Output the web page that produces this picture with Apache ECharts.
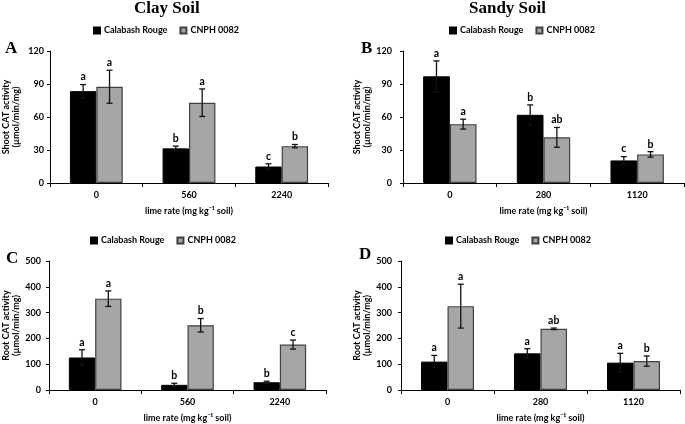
<!DOCTYPE html>
<html>
<head>
<meta charset="utf-8">
<script src="https://cdn.jsdelivr.net/npm/echarts@6/dist/echarts.min.js"></script>
<style>html,body{margin:0;padding:0;background:#fff;}#c{width:685px;height:424px;}</style>
</head>
<body>
<div id="c"></div>
<script>
// ---------- data ----------
const catsClay = ['0', '560', '2240'];
const catsSandy = ['0', '280', '1120'];
const seriesNames = ['Calabash Rouge', 'CNPH 0082'];
const shootTicks = { min: 0, max: 120, interval: 30 };
const rootTicks = { min: 0, max: 500, interval: 100 };

// A: shoot, clay
const shootClayCR = [83.5, 31.5, 15];
const shootClayCRErr = [6, 2, 2.5];
const shootClayCRSig = ['a', 'b', 'c'];
const shootClayCN = [87.5, 73, 33.5];
const shootClayCNErr = [15, 12.5, 1.5];
const shootClayCNSig = ['a', 'a', 'b'];
// B: shoot, sandy
const shootSandyCR = [97, 62, 20.5];
const shootSandyCRErr = [14, 9, 3.5];
const shootSandyCRSig = ['a', 'b', 'c'];
const shootSandyCN = [53.5, 41.5, 26];
const shootSandyCNErr = [4.5, 9, 2.5];
const shootSandyCNSig = ['a', 'ab', 'b'];
// C: root, clay
const rootClayCR = [126, 20, 30];
const rootClayCRErr = [30, 6, 4];
const rootClayCRSig = ['a', 'b', 'b'];
const rootClayCN = [354, 251, 176];
const rootClayCNErr = [30, 26, 17.5];
const rootClayCNSig = ['a', 'b', 'c'];
// D: root, sandy
const rootSandyCR = [110, 142, 106];
const rootSandyCRErr = [24, 18, 36];
const rootSandyCRSig = ['a', 'a', 'a'];
const rootSandyCN = [325, 237, 112];
const rootSandyCNErr = [85, 3, 20];
const rootSandyCNSig = ['a', 'ab', 'b'];

const xName = 'lime rate (mg kg\u207B\u00B9 soil)';
const shootYName = 'Shoot CAT activity\n(\u00B5mol/min/mg)';
const rootYName = 'Root CAT activity\n(\u00B5mol/min/mg)';

// ---------- layout / style ----------
const FONT = 'Lato';
const GAP = 0.43;
const panels = [
  { grid: { left: 49, top: 51, width: 279, height: 132 }, cats: catsClay, ticks: shootTicks, yName: shootYName, yGap: 29, yMargin: 6,
    cr: shootClayCR, crErr: shootClayCRErr, crSig: shootClayCRSig, cn: shootClayCN, cnErr: shootClayCNErr, cnSig: shootClayCNSig,
    legend: { left: 93, top: 26 } },
  { grid: { left: 403, top: 51, width: 281, height: 132 }, cats: catsSandy, ticks: shootTicks, yName: shootYName, yGap: 26, yMargin: 11,
    cr: shootSandyCR, crErr: shootSandyCRErr, crSig: shootSandyCRSig, cn: shootSandyCN, cnErr: shootSandyCNErr, cnSig: shootSandyCNSig,
    legend: { left: 449, top: 26 } },
  { grid: { left: 49, top: 261, width: 277, height: 131 }, cats: catsClay, ticks: rootTicks, yName: rootYName, yGap: 27, yMargin: 8,
    cr: rootClayCR, crErr: rootClayCRErr, crSig: rootClayCRSig, cn: rootClayCN, cnErr: rootClayCNErr, cnSig: rootClayCNSig,
    legend: { left: 90, top: 236 } },
  { grid: { left: 401, top: 261, width: 279, height: 131 }, cats: catsSandy, ticks: rootTicks, yName: rootYName, yGap: 26, yMargin: 9,
    cr: rootSandyCR, crErr: rootSandyCRErr, crSig: rootSandyCRSig, cn: rootSandyCN, cnErr: rootSandyCNErr, cnSig: rootSandyCNSig,
    legend: { left: 445, top: 236 } }
];

const colors = [
  { fill: '#000000', border: '#000000' },
  { fill: '#a6a6a6', border: '#404040' }
];

function errSeries(gi, vals, errs, sigs, sign) {
  return {
    type: 'custom',
    xAxisIndex: gi, yAxisIndex: gi,
    z: 5,
    silent: true,
    data: vals.map((v, i) => [i, v - errs[i], v + errs[i]]),
    renderItem: function (params, api) {
      const idx = api.value(0);
      const band = api.size([1, 0])[0];
      const bw = band * (1 - GAP) / 2;
      const x = api.coord([idx, 0])[0] + sign * bw / 2;
      const yl = api.coord([idx, api.value(1)])[1];
      const yh = api.coord([idx, api.value(2)])[1];
      const cap = 3;
      const ls = { stroke: '#111', lineWidth: 1.3 };
      return {
        type: 'group',
        children: [
          { type: 'line', shape: { x1: x, y1: yl, x2: x, y2: yh }, style: ls },
          { type: 'line', shape: { x1: x - cap, y1: yh, x2: x + cap, y2: yh }, style: ls },
          { type: 'line', shape: { x1: x - cap, y1: yl, x2: x + cap, y2: yl }, style: ls },
          { type: 'text', style: { text: sigs[params.dataIndex], x: x, y: yh - 2,
              align: 'center', verticalAlign: 'bottom', textAlign: 'center', textVerticalAlign: 'bottom',
              font: 'bold 10.5px ' + FONT, fill: '#000' } }
        ]
      };
    }
  };
}

const option = {
  animation: false,
  backgroundColor: '#fff',
  textStyle: { fontFamily: FONT },
  grid: panels.map(p => Object.assign({}, p.grid)),
  legend: panels.map(p => ({
    data: seriesNames, left: p.legend.left, top: p.legend.top, padding: 0,
    itemWidth: 6, itemHeight: 6, itemGap: 12, icon: 'rect',
    textStyle: { fontFamily: FONT, fontWeight: 'bold', fontSize: 9, color: '#000', padding: [0, 0, 0, -1] }
  })),
  xAxis: panels.map((p, i) => ({
    type: 'category', gridIndex: i, data: p.cats,
    name: xName, nameLocation: 'middle', nameGap: 24,
    nameTextStyle: { fontFamily: FONT, fontWeight: 'bold', fontSize: 9, color: '#000' },
    axisLine: { lineStyle: { color: '#000', width: 1 } },
    axisTick: { show: true, length: 4, lineStyle: { color: '#000' } },
    axisLabel: { fontFamily: FONT, fontWeight: 'bold', fontSize: 9, color: '#000', margin: 8 },
    splitLine: { show: false }
  })),
  yAxis: panels.map((p, i) => ({
    type: 'value', gridIndex: i, min: p.ticks.min, max: p.ticks.max, interval: p.ticks.interval,
    name: p.yName, nameLocation: 'middle', nameGap: p.yGap, nameRotate: 90,
    nameTextStyle: { fontFamily: FONT, fontWeight: 'bold', fontSize: 9, color: '#000', lineHeight: 10 },
    axisLine: { show: true, lineStyle: { color: '#000', width: 1 } },
    axisTick: { show: true, length: 3, lineStyle: { color: '#000' } },
    axisLabel: { fontFamily: FONT, fontWeight: 'bold', fontSize: 9, color: '#000', margin: p.yMargin },
    splitLine: { show: false }
  })),
  series: [],
  graphic: [
    { type: 'text', left: 134, top: 0, style: { text: 'Clay Soil', font: 'bold 17px "Liberation Serif"', fill: '#000' } },
    { type: 'text', left: 469, top: 0, style: { text: 'Sandy Soil', font: 'bold 17px "Liberation Serif"', fill: '#000' } },
    { type: 'text', left: 5, top: 40, style: { text: 'A', font: 'bold 17px "Liberation Serif"', fill: '#000' } },
    { type: 'text', left: 361, top: 40, style: { text: 'B', font: 'bold 17px "Liberation Serif"', fill: '#000' } },
    { type: 'text', left: 6, top: 250, style: { text: 'C', font: 'bold 17px "Liberation Serif"', fill: '#000' } },
    { type: 'text', left: 359, top: 246, style: { text: 'D', font: 'bold 17px "Liberation Serif"', fill: '#000' } }
  ]
};

panels.forEach((p, gi) => {
  option.series.push({
    name: seriesNames[0], type: 'bar', xAxisIndex: gi, yAxisIndex: gi, data: p.cr,
    barGap: '0%', barCategoryGap: (GAP * 100) + '%',
    itemStyle: { color: colors[0].fill, borderColor: colors[0].border, borderWidth: 1 }
  });
  option.series.push({
    name: seriesNames[1], type: 'bar', xAxisIndex: gi, yAxisIndex: gi, data: p.cn,
    barGap: '0%', barCategoryGap: (GAP * 100) + '%',
    itemStyle: { color: colors[1].fill, borderColor: colors[1].border, borderWidth: 1.2 }
  });
  option.series.push(errSeries(gi, p.cr, p.crErr, p.crSig, -1));
  option.series.push(errSeries(gi, p.cn, p.cnErr, p.cnSig, 1));
});

const chart = echarts.init(document.getElementById('c'), null, { renderer: 'canvas' });
chart.setOption(option);
</script>
</body>
</html>
